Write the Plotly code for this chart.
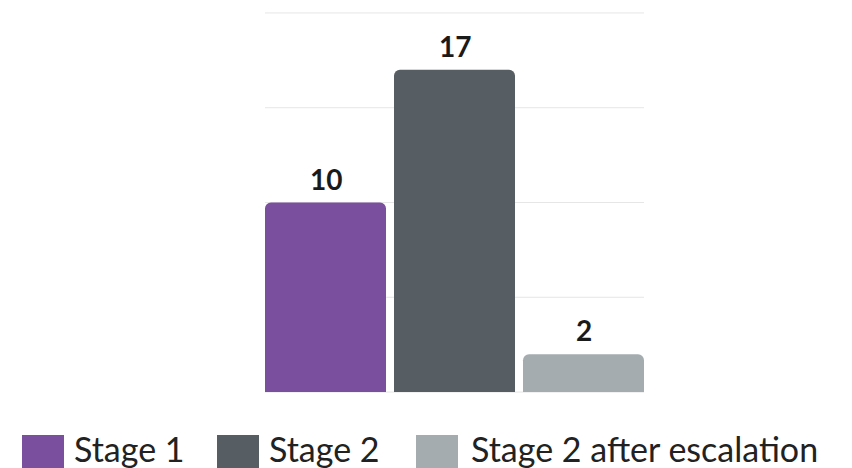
import plotly.graph_objects as go

# Values per stage
stages = ["Stage 1", "Stage 2", "Stage 2 after escalation"]
counts = [10, 17, 2]
colors = ["#7a4f9e", "#575e63", "#a5acb0"]
positions = [0, 1, 2]
grid_values = [0, 5, 10, 15, 20]

W, H = 852, 468
L, R, T, B = 265, 208, 12, 75
plot_w = W - L - R
plot_h = H - T - B

fig = go.Figure()

# horizontal guide lines (drawn below the bars)
for g in grid_values:
    fig.add_shape(type="line", xref="paper", yref="y", x0=0, x1=1, y0=g, y1=g,
                  line=dict(color="#e6e6e6", width=1), layer="below")

for name, val, col, pos in zip(stages, counts, colors, positions):
    fig.add_trace(go.Bar(
        x=[pos], y=[val], name=name,
        width=0.938,
        marker=dict(color=col, cornerradius=6, line=dict(width=0)),
        showlegend=False,
        hoverinfo="skip",
    ))
    # value label above each bar
    fig.add_annotation(
        x=pos, y=val, xref="x", yref="y",
        text=f"<b>{val}</b>", showarrow=False,
        yanchor="bottom", yshift=5,
        font=dict(family="Lato", size=28, color="#1a1a1a"),
    )

# Custom legend: large swatches with labels underneath the plot
legend_px = [(22, 72), (217, 267), (416, 469)]
swatch = 42
sw_top = 435
for (sx, tx), name, col in zip(legend_px, stages, colors):
    fig.add_shape(
        type="rect", xref="paper", yref="paper",
        x0=(sx - L) / plot_w, x1=(sx + swatch - L) / plot_w,
        y0=(H - B - (sw_top + swatch)) / plot_h, y1=(H - B - sw_top) / plot_h,
        fillcolor=col, line=dict(width=0), layer="above",
    )
    fig.add_annotation(
        xref="paper", yref="paper",
        x=(tx - L) / plot_w, y=(H - B - 448) / plot_h,
        xanchor="left", yanchor="middle",
        text=name, showarrow=False,
        font=dict(family="Lato", size=34, color="#222222"),
    )

fig.update_layout(
    width=W, height=H,
    margin=dict(l=L, r=R, t=T, b=B),
    paper_bgcolor="white", plot_bgcolor="white",
    barmode="overlay",
    xaxis=dict(range=[-0.469, 2.469], showticklabels=False, showgrid=False,
               zeroline=False, showline=False, fixedrange=True),
    yaxis=dict(range=[-0.05, 20.05], showticklabels=False, showgrid=False,
               zeroline=False, showline=False, fixedrange=True),
)

fig.write_html("out.html")
